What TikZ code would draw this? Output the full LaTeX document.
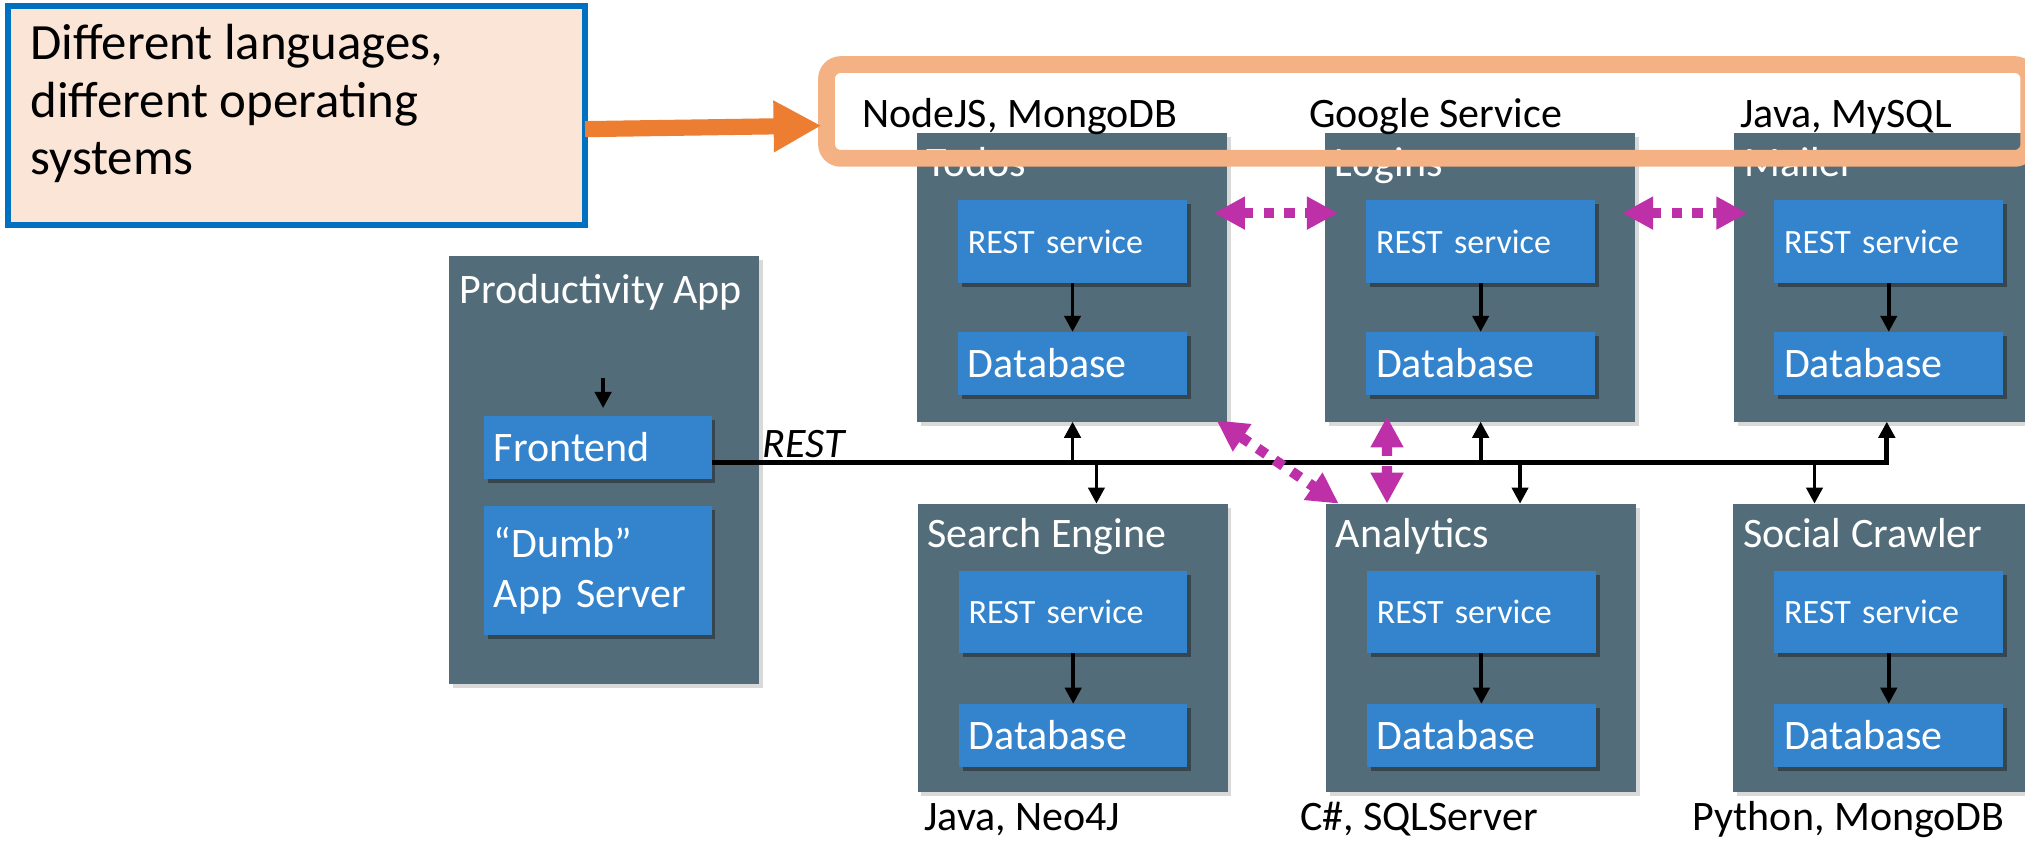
\documentclass[tikz,border=0pt]{standalone}
\usepackage{fontspec}
\setmainfont{Carlito}
\usetikzlibrary{arrows.meta,shadows,calc}
\definecolor{slate}{RGB}{82,108,122}
\definecolor{bluebox}{RGB}{52,131,205}
\definecolor{calloutfill}{RGB}{251,229,214}
\definecolor{calloutborder}{RGB}{0,112,192}
\definecolor{orangeA}{RGB}{237,125,49}
\definecolor{orangeB}{RGB}{244,177,131}
\definecolor{magentaA}{RGB}{190,48,168}
\newcommand\myfontA{\fontsize{9.25pt}{11.2pt}\selectfont}
\newcommand\myfontB{\fontsize{7.5pt}{9pt}\selectfont}
\newcommand\myfontC{\fontsize{11.2pt}{12.7pt}\selectfont}
\begin{document}
\begin{tikzpicture}[x=0.1mm,y=-0.1mm,
  svc/.style={fill=slate, anchor=north west, inner sep=0, outer sep=0, minimum width=24mm, minimum height=22.35mm,
    drop shadow={shadow xshift=0.3mm, shadow yshift=-0.3mm, opacity=0.15, fill=black}},
  inbox/.style={fill=bluebox, text=white, anchor=north west, outer sep=0, inner xsep=0.75mm, inner ysep=0,
    text width=16.2mm, align=left, drop shadow={shadow xshift=0.3mm, shadow yshift=-0.3mm, opacity=0.35, fill=black}},
  inR/.style={inbox, minimum height=6.4mm, font=\myfontB},
  inD/.style={inbox, minimum height=4.9mm, font=\myfontA},
  ttl/.style={anchor=base west, inner sep=0, text=white, font=\myfontA},
  lbl/.style={anchor=base west, inner sep=0, text=black, font=\myfontA},
  blk/.style={draw=black, line width=0.3mm, -{Triangle[length=1.25mm,width=1.25mm]}},
  busline/.style={draw=black, line width=0.4mm, -{Triangle[length=1.25mm,width=1.25mm]}},
  magarrow/.style={draw=magentaA, line width=0.8mm, dash pattern=on 0.8mm off 0.8mm,
    {Triangle[length=2.4mm,width=2.4mm]}-{Triangle[length=2.4mm,width=2.4mm]}}
]
\useasboundingbox (0,0) rectangle (1568,652);
\clip (0,0) rectangle (1568,652);

% callout
\node[draw=calloutborder, line width=0.45mm, fill=calloutfill, minimum width=44.65mm, minimum height=17mm,
  anchor=north west, outer sep=0, inner sep=0] (callout) at (6.5,4.5) {};
\node[anchor=base west, inner sep=0, align=left, font=\myfontC] (callouttext) at (23,135.5)
  {Different languages,\\different operating\\systems};

% productivity app
\node[svc, minimum width=23.95mm, minimum height=33.2mm] (prod) at (348,198) {};
\node[ttl] (prodt) at ($(prod.north west)+(7,37)$) {Productivity App};
\node[inbox, minimum height=4.9mm, font=\myfontA, text width=16.1mm] (front) at (375,322) {Frontend};
\node[inbox, minimum height=10mm, font=\myfontA, text width=16.1mm] (dumb) at (375,392) {“Dumb”\\App Server};
\coordinate (pin) at (467,293);
\draw[blk, shorten >=0.6mm] (pin) -- (pin |- front.north);

% top row services
\node[svc] (todos) at (710,103) {};
\node[ttl] (todost) at ($(todos.north west)+(7,34)$) {Todos};
\node[inR] (todosR) at ($(todos.north west)+(32,52)$) {REST service};
\node[inD] (todosD) at ($(todos.north west)+(32,154)$) {Database};
\draw[blk] (todosR) -- (todosD);

\node[svc] (logins) at (1026,103) {};
\node[ttl] (loginst) at ($(logins.north west)+(7,34)$) {Logins};
\node[inR] (loginsR) at ($(logins.north west)+(32,52)$) {REST service};
\node[inD] (loginsD) at ($(logins.north west)+(32,154)$) {Database};
\draw[blk] (loginsR) -- (loginsD);

\node[svc] (mailer) at (1343,103) {};
\node[ttl] (mailert) at ($(mailer.north west)+(7,34)$) {Mailer};
\node[inR] (mailerR) at ($(mailer.north west)+(31,52)$) {REST service};
\node[inD] (mailerD) at ($(mailer.north west)+(31,154)$) {Database};
\draw[blk] (mailerR) -- (mailerD);

% bottom row services
\node[svc] (search) at (710.5,390) {};
\node[ttl] (searcht) at ($(search.north west)+(7,34)$) {Search Engine};
\node[inR] (searchR) at ($(search.north west)+(32,52)$) {REST service};
\node[inD] (searchD) at ($(search.north west)+(32,155)$) {Database};
\draw[blk] (searchR) -- (searchD);

\node[svc] (analytics) at (1026.6,390) {};
\node[ttl] (analyticst) at ($(analytics.north west)+(7,34)$) {Analytics};
\node[inR] (analyticsR) at ($(analytics.north west)+(32,52)$) {REST service};
\node[inD] (analyticsD) at ($(analytics.north west)+(32,155)$) {Database};
\draw[blk] (analyticsR) -- (analyticsD);

\node[svc] (social) at (1342,390) {};
\node[ttl] (socialt) at ($(social.north west)+(7,34)$) {Social Crawler};
\node[inR] (socialR) at ($(social.north west)+(32,52)$) {REST service};
\node[inD] (socialD) at ($(social.north west)+(32,155)$) {Database};
\draw[blk] (socialR) -- (socialD);

% REST bus
\coordinate (busY) at (0,358);
\coordinate (bR) at (1461,358);
\draw[busline] (front.east |- busY) -- (bR) -- (bR |- mailer.south);
\node[anchor=base west, inner sep=0, font=\myfontA\itshape] (restlbl) at (590,354) {REST};
\coordinate (b1) at (830.5,358);
\coordinate (b2) at (849,358);
\coordinate (b3) at (1146.5,358);
\coordinate (b4) at (1177,358);
\coordinate (b5) at (1405,358);
\draw[blk] (b1) -- (b1 |- todos.south);
\draw[blk] (b2) -- (b2 |- search.north);
\draw[blk] (b3) -- (b3 |- logins.south);
\draw[blk] (b4) -- (b4 |- analytics.north);
\draw[blk] (b5) -- (b5 |- social.north);

% magenta dotted links
\draw[magarrow] ($(todos.north east)+(-10,62)$) -- ($(logins.north west)+(10,62)$);
\draw[magarrow] ($(logins.north east)+(-10,62)$) -- ($(mailer.north west)+(10,62)$);
\draw[magarrow] ($(todos.south east)+(-8,-1)$) -- ($(analytics.north west)+(10,0)$);
\draw[magarrow] ($(logins.south west)+(48,-4)$) -- ($(analytics.north west)+(47.4,0)$);

% highlight of the technologies
\node[draw=orangeB, line width=1.3mm, rounded corners=1.1mm, minimum width=93.1mm, minimum height=7.26mm,
  anchor=north west, outer sep=0, inner sep=0] (hl) at (640,50) {};
\draw[orangeA, line width=1.25mm, -{Triangle[length=3.7mm,width=3.75mm]}]
  ($(callout.east)+(0,10.5)$) -- ($(hl.west)+(-4,11)$);

% technology labels
\node[lbl] (l1) at (667,98.5) {NodeJS, MongoDB};
\node[lbl] (l2) at (1013,98.5) {Google Service};
\node[lbl] (l3) at (1347,98.5) {Java, MySQL};
\node[lbl] (l4) at (715,643) {Java, Neo4J};
\node[lbl] (l5) at (1006,643) {C\#, SQLServer};
\node[lbl] (l6) at (1310,643) {Python, MongoDB};
\end{tikzpicture}
\end{document}
